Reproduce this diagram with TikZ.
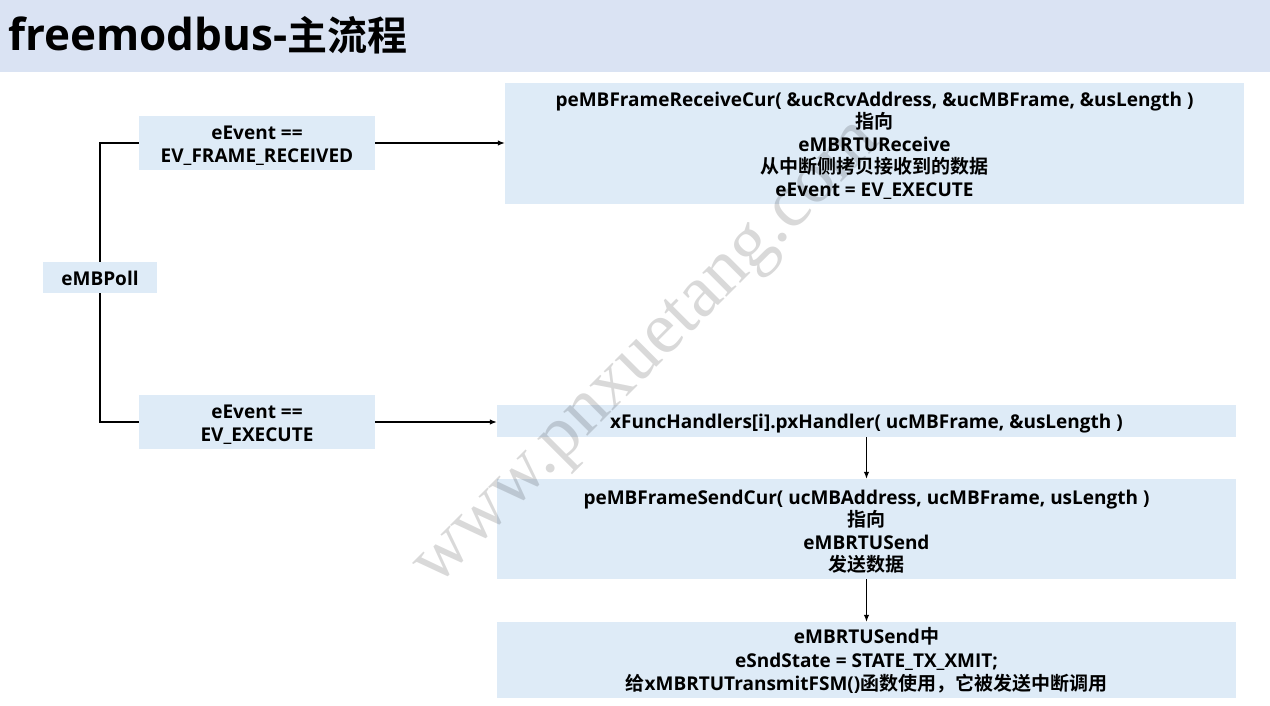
\documentclass[tikz,border=0pt]{standalone}
\usepackage{fontspec}
\setmainfont{Open Sans}[BoldFont={Open Sans Bold}]
\newfontfamily\cjk{Noto Sans CJK SC}[BoldFont={Noto Sans CJK SC Bold}]
\newfontfamily\wmfont{Liberation Serif}
\usetikzlibrary{arrows.meta}
\definecolor{titlebg}{HTML}{DAE3F3}
\definecolor{boxbg}{HTML}{DEEBF7}
\newcommand{\zh}[1]{{\cjk\bfseries #1}}
\begin{document}
\begin{tikzpicture}[x=1pt,y=-1pt,
  box/.style={fill=boxbg, draw=none, inner sep=0pt},
  txt/.style={inner sep=0pt, align=center, font=\fontsize{19}{22.5}\selectfont\bfseries},
  conn/.style={line width=1.2pt, draw=black},
  arr/.style={conn, -{Latex[length=7pt,width=5.5pt]}}]
\useasboundingbox (0,0) rectangle (1270,705);
\fill[white] (0,0) rectangle (1270,705);
\fill[titlebg] (0,0) rectangle (1270,72);
\node[anchor=base west, inner sep=0pt, font=\fontsize{44}{50}\selectfont\bfseries] (title) at (8,50) {freemodbus-{\fontsize{40}{50}\selectfont\zh{主流程}}};
% boxes
\node[box, minimum width=114pt, minimum height=31pt] (poll) at (100,277.5) {};
\node[box, minimum width=236pt, minimum height=54pt] (c1) at (257,143) {};
\node[box, minimum width=236pt, minimum height=54pt] (c2) at (257,422) {};
\node[box, minimum width=739pt, minimum height=121pt] (recv) at (874.5,143.5) {};
\node[box, minimum width=739pt, minimum height=32pt] (h) at (866.5,421) {};
\node[box, minimum width=739pt, minimum height=100pt] (send) at (866.5,529) {};
\node[box, minimum width=739pt, minimum height=76pt] (fin) at (866.5,660) {};
% texts
\node[txt] (pollt) at ([yshift=-1pt]poll.center) {eMBPoll};
\node[txt] (c1t) at ([yshift=-2.5pt]c1.center) {eEvent ==\\EV\_FRAME\_RECEIVED};
\node[txt] (c2t) at ([yshift=-2.5pt]c2.center) {eEvent ==\\EV\_EXECUTE};
\node[txt] (recvt) at ([yshift=-2pt]recv.center) {peMBFrameReceiveCur( \&ucRcvAddress, \&ucMBFrame, \&usLength )\\\zh{指向}\\eMBRTUReceive\\\zh{从中断侧拷贝接收到的数据}\\eEvent = EV\_EXECUTE};
\node[txt] (ht) at ([yshift=-2.5pt]h.center) {xFuncHandlers[i].pxHandler( ucMBFrame, \&usLength )};
\node[txt] (sendt) at ([yshift=-2.5pt]send.center) {peMBFrameSendCur( ucMBAddress, ucMBFrame, usLength )\\\zh{指向}\\eMBRTUSend\\\zh{发送数据}};
\node[txt, font=\fontsize{19}{23.5}\selectfont\bfseries] (fint) at ([yshift=-0.5pt]fin.center) {eMBRTUSend\zh{中}\\eSndState = STATE\_TX\_XMIT;\\\zh{给}xMBRTUTransmitFSM()\zh{函数使用，它被发送中断调用}};
% connectors
\draw[conn] (poll.north) |- (c1.west);
\draw[conn] (poll.south) |- (c2.west);
\draw[arr] (c1.east) -- (c1.east -| recv.west);
\draw[arr] (c2.east) -- (c2.east -| h.west);
\draw[arr] (h.south) -- (send.north);
\draw[arr] (send.south) -- (fin.north);
% watermark
\node[rotate=45, text=black, text opacity=0.15, inner sep=0pt, font=\fontsize{74}{78}\wmfont] (wmark) at (650,356) {www.pnxuetang.com};
\end{tikzpicture}
\end{document}
